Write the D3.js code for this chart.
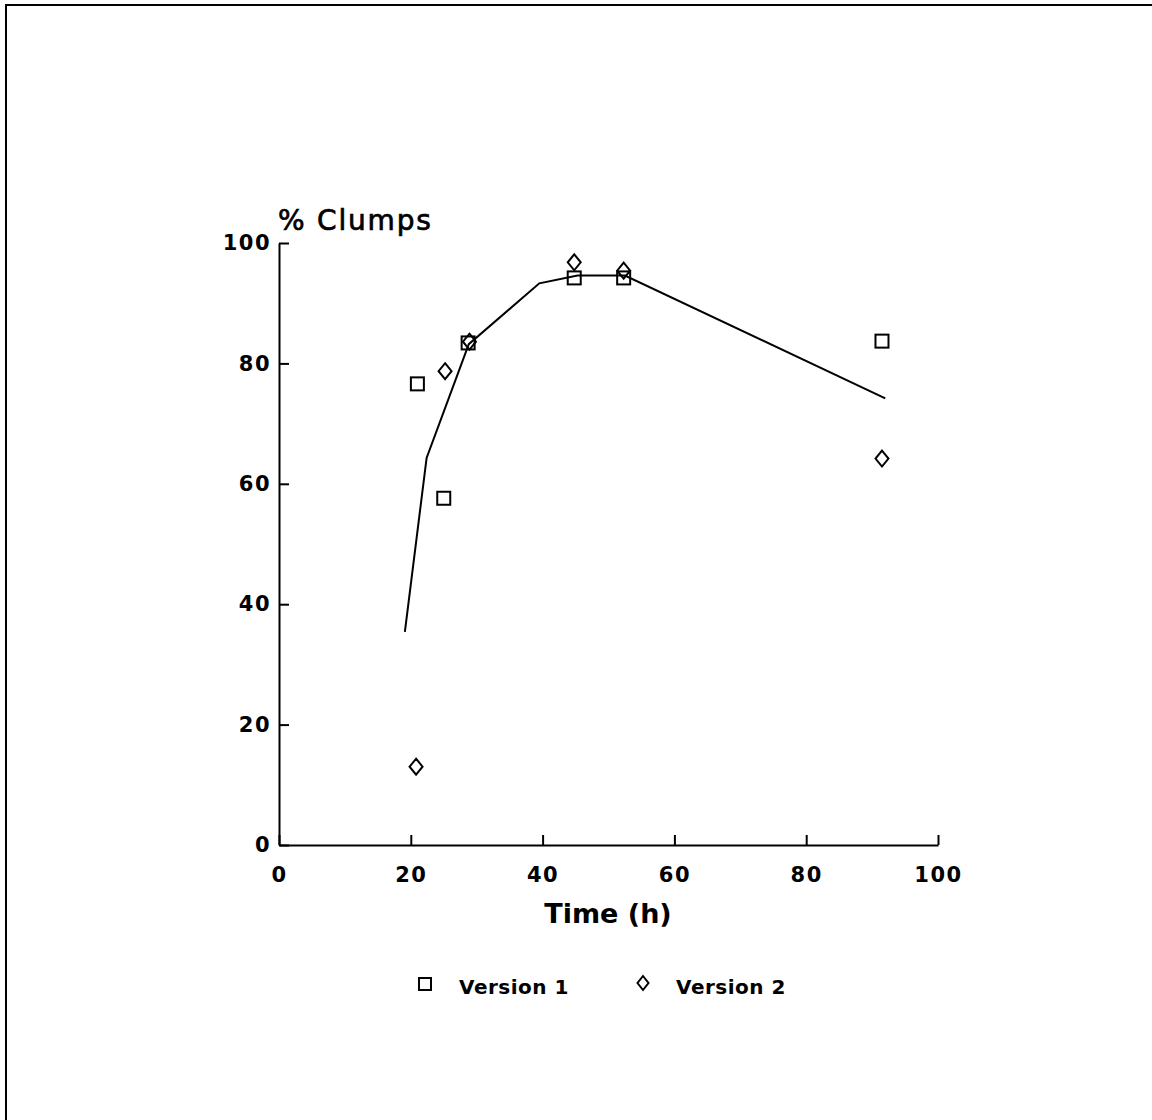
<!DOCTYPE html>
<html>
<head>
<meta charset="utf-8">
<script src="https://cdn.jsdelivr.net/npm/d3@7"></script>
<style>
  body { margin: 0; background: #fff; }
  svg { display: block; }
  text { font-family: "DejaVu Sans", Arial, sans-serif; fill: #000; }
</style>
</head>
<body>
<div id="wrapper"></div>
<script>
// data
const version1 = [[21, 76.6], [25, 57.6], [28.7, 83.4], [44.8, 94.2], [52.3, 94.2], [91.5, 83.7]];
const version2 = [[20.8, 13], [25.2, 78.7], [28.9, 83.6], [44.8, 96.8], [52.3, 95.4], [91.5, 64.2]];
const fitLine = [[19.1, 35.4], [22.4, 64.3], [28.8, 83.2], [39.5, 93.3], [45.3, 94.6], [52.5, 94.6], [92, 74.2]];
const xTicks = [0, 20, 40, 60, 80, 100];
const yTicks = [0, 20, 40, 60, 80, 100];
const seriesNames = ['Version 1', 'Version 2'];

const width = 1152, height = 1120;
const font = '"DejaVu Sans", Arial, sans-serif';

const svg = d3.select('#wrapper')
  .append('svg')
  .attr('width', width)
  .attr('height', height);

// page frame (top and left edges of the scanned figure)
svg.append('path')
  .attr('d', 'M6,1120 V5 H1152')
  .attr('fill', 'none')
  .attr('stroke', '#000')
  .attr('stroke-width', 2);

const x = d3.scaleLinear().domain([0, 100]).range([279, 938]);
const y = d3.scaleLinear().domain([0, 100]).range([845, 243]);

// axes, ticks pointing inward
const xAxis = svg.append('g')
  .attr('transform', 'translate(0,' + y(0) + ')')
  .call(d3.axisBottom(x).tickValues(xTicks).tickSizeInner(-10).tickSizeOuter(0).tickPadding(16));
const yAxis = svg.append('g')
  .attr('transform', 'translate(' + x(0) + ',0)')
  .call(d3.axisLeft(y).tickValues(yTicks).tickSizeInner(-10).tickSizeOuter(0).tickPadding(8));

[xAxis, yAxis].forEach(a => {
  a.select('.domain').attr('stroke', '#000').attr('stroke-width', 2);
  a.selectAll('.tick line').attr('stroke', '#000').attr('stroke-width', 2);
  a.selectAll('.tick text')
    .style('font-family', font)
    .style('font-size', '21px')
    .style('font-weight', 'bold')
    .style('letter-spacing', '1.5px')
    .attr('fill', '#000');
});
xAxis.selectAll('.tick text').attr('dy', '1.0em');

// axis titles
svg.append('text')
  .attr('x', 278)
  .attr('y', 230)
  .style('font-size', '28px')
  .style('letter-spacing', '1.8px')
  .attr('stroke', '#000')
  .attr('stroke-width', 0.7)
  .text('% Clumps');

svg.append('text')
  .attr('x', 608)
  .attr('y', 923)
  .attr('text-anchor', 'middle')
  .style('font-size', '27px')
  .style('font-weight', 'bold')
  .text('Time (h)');

// fitted line
svg.append('path')
  .datum(fitLine)
  .attr('fill', 'none')
  .attr('stroke', '#000')
  .attr('stroke-width', 2)
  .attr('d', d3.line().x(d => x(d[0])).y(d => y(d[1])));

const diamond = 'M0,-8 L6.5,0 L0,8 L-6.5,0 Z';

svg.append('g').selectAll('rect')
  .data(version1)
  .enter()
  .append('rect')
  .attr('x', d => x(d[0]) - 6.5)
  .attr('y', d => y(d[1]) - 6.5)
  .attr('width', 13)
  .attr('height', 13)
  .attr('fill', 'none')
  .attr('stroke', '#000')
  .attr('stroke-width', 2);

svg.append('g').selectAll('path')
  .data(version2)
  .enter()
  .append('path')
  .attr('transform', d => 'translate(' + x(d[0]) + ',' + y(d[1]) + ')')
  .attr('d', diamond)
  .attr('fill', 'none')
  .attr('stroke', '#000')
  .attr('stroke-width', 2);

// legend
const legend = svg.append('g').attr('transform', 'translate(0,986)');
legend.append('rect')
  .attr('x', 419).attr('y', -8).attr('width', 12).attr('height', 12)
  .attr('fill', 'none').attr('stroke', '#000').attr('stroke-width', 2);
legend.append('path')
  .attr('transform', 'translate(643,-3)')
  .attr('d', 'M0,-7 L5.5,0 L0,7 L-5.5,0 Z')
  .attr('fill', 'none').attr('stroke', '#000').attr('stroke-width', 2);
legend.selectAll('text')
  .data(seriesNames)
  .enter()
  .append('text')
  .attr('x', (d, i) => i === 0 ? 459 : 676)
  .attr('y', 8)
  .style('font-size', '20px')
  .style('font-weight', 'bold')
  .style('letter-spacing', '0.5px')
  .text(d => d);
</script>
</body>
</html>
